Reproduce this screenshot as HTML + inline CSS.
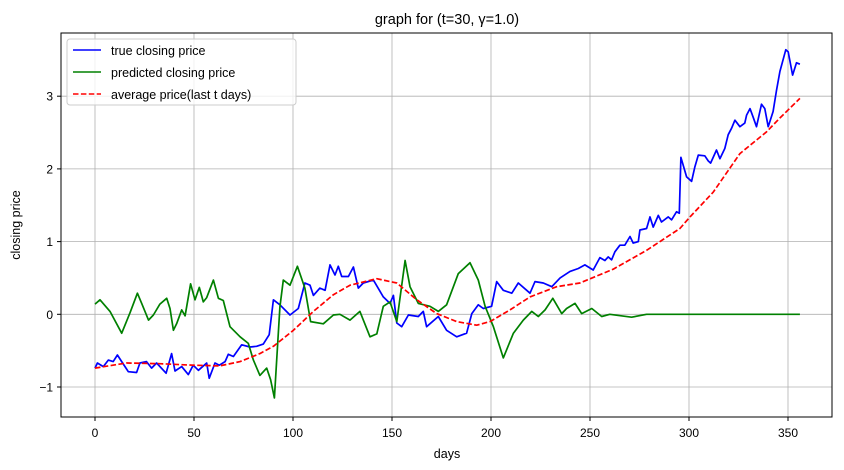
<!DOCTYPE html>
<html><head><meta charset="utf-8"><style>
body{margin:0;background:#fff}
svg{display:block;font-family:"Liberation Sans","DejaVu Sans",sans-serif}
</style></head><body>
<svg id="chart" width="844" height="470">
<rect width="844" height="470" fill="#fff"/>
<g id="grid"></g>
<g id="series"></g>
<rect x="61" y="33" width="771" height="384" fill="none" stroke="#000" stroke-width="1"/>
<g id="ticks"></g>
<text x="447" y="24" text-anchor="middle" font-size="14.5">graph for (t=30, γ=1.0)</text>
<text x="447" y="458" text-anchor="middle" font-size="12.5">days</text>
<text transform="translate(20,225) rotate(-90)" text-anchor="middle" font-size="12.5">closing price</text>
<g>
<rect x="67" y="39" width="229" height="66" rx="3" fill="#fff" fill-opacity="0.8" stroke="#ccc"/>
<g><line x1="73" y1="50" x2="101" y2="50" stroke="#0000ff" stroke-width="1.6"/><text x="111" y="55" font-size="12.5">true closing price</text></g>
<g><line x1="73" y1="72" x2="101" y2="72" stroke="#008000" stroke-width="1.6"/><text x="111" y="77" font-size="12.5">predicted closing price</text></g>
<g><line x1="73" y1="94" x2="101" y2="94" stroke="#ff0000" stroke-width="1.6" stroke-dasharray="5.5,2.4"/><text x="111" y="99" font-size="12.5">average price(last t days)</text></g>
</g>
</svg>
<script>
const xTicks=[0,50,100,150,200,250,300,350];
const yTicks=[-1,0,1,2,3];
const trueDays=[0,1.2,4.2,6.7,9.2,11.3,13.5,16.8,21,22.7,26,28.6,31.1,35.9,38.7,40.4,43.8,47.1,49.6,52.2,56.4,57.7,60.6,62.8,65.7,67.3,69.9,74.1,78.3,81.6,85,88,90.1,93.4,98.5,102.7,106,108.6,110.3,113.6,116.2,118.7,121.2,122.9,124.6,128,130.5,133,135.5,140.6,145.6,149,150.7,152.4,154.9,158.3,163.3,165.8,167.5,173.4,177.6,182.7,187.7,190.3,193.6,196.1,200.3,202.9,206.2,210.5,213.8,219.7,222.2,226.4,230.7,234.9,239.9,244.1,247.4,251.6,255,257.5,259.2,260.9,262.6,265.1,267.6,270.2,271.8,274.4,275.2,278.6,280.3,281.9,284.5,286.1,289.5,291.2,293.7,295.1,295.9,298.8,301.3,303,304.7,308,309.7,310.9,313.9,315.6,318.1,319.8,321.5,323.2,325.7,328.2,329.1,330.8,332.4,334.1,336.6,338.3,340,342.5,344.2,345.9,348.9,350.1,352.3,354.3,356];
const trueVals=[-0.74,-0.67,-0.72,-0.63,-0.65,-0.56,-0.65,-0.79,-0.8,-0.67,-0.65,-0.74,-0.67,-0.81,-0.54,-0.78,-0.72,-0.83,-0.7,-0.77,-0.67,-0.88,-0.67,-0.7,-0.65,-0.55,-0.58,-0.42,-0.45,-0.44,-0.41,-0.28,0.2,0.13,-0.01,0.08,0.43,0.4,0.26,0.36,0.33,0.68,0.54,0.66,0.52,0.52,0.65,0.36,0.43,0.47,0.24,0.15,0.26,-0.12,-0.17,-0.01,-0.03,0.04,-0.17,-0.03,-0.22,-0.31,-0.26,0.01,0.13,0.08,0.11,0.45,0.33,0.29,0.43,0.29,0.45,0.43,0.38,0.5,0.59,0.63,0.68,0.61,0.78,0.74,0.79,0.75,0.86,0.95,0.95,1.07,0.98,1.0,1.16,1.18,1.34,1.2,1.36,1.27,1.34,1.3,1.41,1.39,2.16,1.89,1.83,2.03,2.19,2.18,2.11,2.08,2.26,2.14,2.28,2.47,2.56,2.67,2.58,2.63,2.74,2.83,2.71,2.58,2.89,2.83,2.58,2.79,3.08,3.34,3.64,3.61,3.29,3.46,3.44];
const predDays=[0,2.5,7.6,13.5,17.7,21.4,23.6,27,29.5,32.8,36.2,37.9,39.6,41.2,43.8,45.5,48.3,50.5,52.7,54.7,56.4,59.8,62.3,64.8,68.2,73.3,77.4,80,83.3,86.7,88.7,90.6,93.4,95.1,98.5,102.2,106,108.9,115.3,120.4,123.7,128.8,133.8,138.9,142.3,145.6,149,152.4,156.6,159.1,163.3,169.2,173.4,177.6,183.5,189.4,193.6,197,201.2,206.2,211.3,216.3,220.6,223.9,227.3,231.2,235.7,238.2,242.4,245.8,250.9,255.9,260,271,278.6,356];
const predVals=[0.14,0.2,0.04,-0.26,0.02,0.29,0.15,-0.08,-0.01,0.14,0.22,0.08,-0.22,-0.13,0.06,-0.02,0.42,0.2,0.37,0.17,0.23,0.47,0.22,0.19,-0.17,-0.31,-0.4,-0.63,-0.84,-0.74,-0.9,-1.15,0.1,0.47,0.4,0.66,0.36,-0.1,-0.13,-0.01,0.0,-0.08,0.04,-0.31,-0.27,0.11,0.17,-0.1,0.74,0.38,0.15,0.11,0.04,0.13,0.56,0.71,0.47,0.11,-0.17,-0.6,-0.26,-0.08,0.04,-0.03,0.06,0.22,0.01,0.08,0.15,0.01,0.08,-0.03,0.0,-0.04,0.0,0.0];
const avgDays=[0,16,32.8,49.6,63,73.3,83.3,90.1,100.2,110.3,120.4,128.8,142.3,152.4,162.5,172.6,182.7,192.8,199.5,209.6,219.7,233.2,244.9,261.7,278.6,295.4,300.5,312.2,325.7,339.2,345.9,356];
const avgVals=[-0.74,-0.67,-0.68,-0.7,-0.71,-0.65,-0.54,-0.44,-0.22,0.04,0.27,0.4,0.49,0.43,0.2,0.01,-0.1,-0.15,-0.1,0.06,0.24,0.38,0.43,0.62,0.88,1.18,1.34,1.68,2.21,2.51,2.7,2.97];

const NS='http://www.w3.org/2000/svg';
const X=d=>95+d*1.98;
const Y=v=>314.3-v*72.7;
const grid=document.getElementById('grid'),ticks=document.getElementById('ticks'),series=document.getElementById('series');
function mk(tag,attrs,parent){const e=document.createElementNS(NS,tag);for(const k in attrs)e.setAttribute(k,attrs[k]);parent.appendChild(e);return e;}
xTicks.forEach(t=>{
  const g=mk('line',{x1:X(t),x2:X(t),y1:33,y2:417,stroke:'#b0b0b0','stroke-width':0.8},grid);
  
  
  mk('line',{x1:X(t),x2:X(t),y1:417,y2:421,stroke:'#000'},ticks);
  const tx=mk('text',{x:X(t),y:437,'text-anchor':'middle','font-size':12},ticks);
  tx.textContent=t;
  
  
});
yTicks.forEach(t=>{
  const g=mk('line',{x1:61,x2:832,y1:Y(t),y2:Y(t),stroke:'#b0b0b0','stroke-width':0.8},grid);
  
  
  mk('line',{x1:57,x2:61,y1:Y(t),y2:Y(t),stroke:'#000'},ticks);
  const tx=mk('text',{x:53,y:Y(t)+4.5,'text-anchor':'end','font-size':12},ticks);
  tx.textContent=(t<0?'\u2212'+(-t):t);
  
  
});
function line(days,vals,color,dash,name){
  const pts=days.map((d,i)=>X(d).toFixed(1)+','+Y(vals[i]).toFixed(1)).join(' ');
  const p=mk('polyline',{points:pts,fill:'none',stroke:color,'stroke-width':1.7,'stroke-linejoin':'round'},series);
  if(dash)p.setAttribute('stroke-dasharray',dash);
  
  
}
line(trueDays,trueVals,'#0000ff',null,'true-closing-price-line');
line(predDays,predVals,'#008000',null,'predicted-closing-price-line');
line(avgDays,avgVals,'#ff0000','5.5,2.4','average-price-line');
</script>
</body></html>
